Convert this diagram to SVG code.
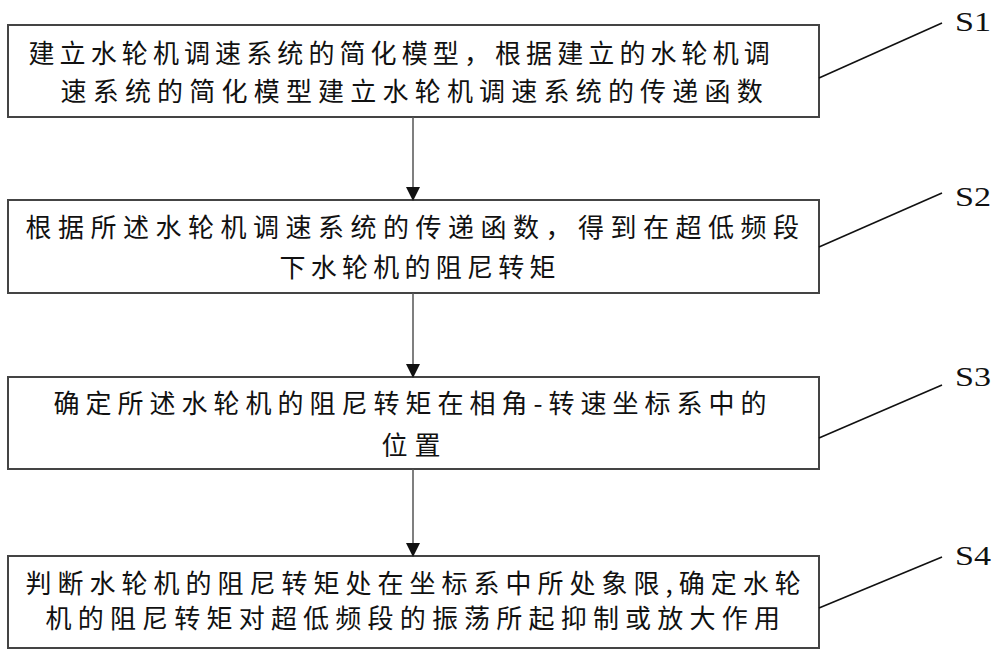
<svg xmlns="http://www.w3.org/2000/svg" width="1000" height="658" viewBox="0 0 1000 658">
<defs>
<style>
.box{fill:#fff;stroke:#444;stroke-width:2}
.t{font-family:"Noto Sans CJK SC","Noto Sans CJK TC",sans-serif;font-size:26px;fill:#111}
.lbl{font-family:"Liberation Serif","Times New Roman",serif;font-size:28px;fill:#111}
.lead{stroke:#111;stroke-width:1.6;fill:none}
.arr{stroke:#555;stroke-width:1.5;fill:none;marker-end:url(#ah)}
</style>
<marker id="ah" viewBox="0 0 14 14" refX="13" refY="7" markerWidth="14" markerHeight="14" markerUnits="userSpaceOnUse" orient="auto">
<path d="M0,0 L14,7 L0,14 Z" fill="#111"/>
</marker>
</defs>
<rect width="1000" height="658" fill="#fff"/>
<g id="S1">
<rect class="box" x="8" y="25" width="811" height="92"/>
<text class="t" x="28.5" y="63" style="letter-spacing:5.1px">建立水轮机调速系统的简化模型，根据建立的水轮机调</text>
<text class="t" x="60.5" y="101" style="letter-spacing:6.2px">速系统的简化模型建立水轮机调速系统的传递函数</text>
<text class="lbl" x="955" y="31" textLength="36" lengthAdjust="spacingAndGlyphs">S1</text>
</g>
<g id="S2">
<rect class="box" x="8" y="200" width="811" height="93"/>
<text class="t" x="25.5" y="237" style="letter-spacing:6.5px">根据所述水轮机调速系统的传递函数，得到在超低频段</text>
<text class="t" x="279.5" y="277" style="letter-spacing:5.25px">下水轮机的阻尼转矩</text>
<text class="lbl" x="955" y="206" textLength="36" lengthAdjust="spacingAndGlyphs">S2</text>
</g>
<g id="S3">
<rect class="box" x="8" y="377" width="811" height="92"/>
<text class="t" x="53.5" y="413" style="letter-spacing:6px">确定所述水轮机的阻尼转矩在相角-转速坐标系中的</text>
<text class="t" x="381.5" y="455" style="letter-spacing:7px">位置</text>
<text class="lbl" x="955" y="386" textLength="36" lengthAdjust="spacingAndGlyphs">S3</text>
</g>
<g id="S4">
<rect class="box" x="8" y="556" width="811" height="92"/>
<text class="t" x="25.5" y="593" style="letter-spacing:6px">判断水轮机的阻尼转矩处在坐标系中所处象限,确定水轮</text>
<text class="t" x="45.5" y="628" style="letter-spacing:6.2px">机的阻尼转矩对超低频段的振荡所起抑制或放大作用</text>
<text class="lbl" x="955" y="565" textLength="36" lengthAdjust="spacingAndGlyphs">S4</text>
</g>
<g id="connectors">
<line class="arr" x1="413" y1="117" x2="413" y2="200"/>
<line class="arr" x1="413" y1="293" x2="413" y2="377"/>
<line class="arr" x1="413" y1="469" x2="413" y2="556"/>
<line class="lead" x1="819" y1="78" x2="942" y2="23"/>
<line class="lead" x1="819" y1="247" x2="942" y2="193"/>
<line class="lead" x1="819" y1="438" x2="942" y2="385"/>
<line class="lead" x1="819" y1="608" x2="942" y2="557"/>
</g>
</svg>
